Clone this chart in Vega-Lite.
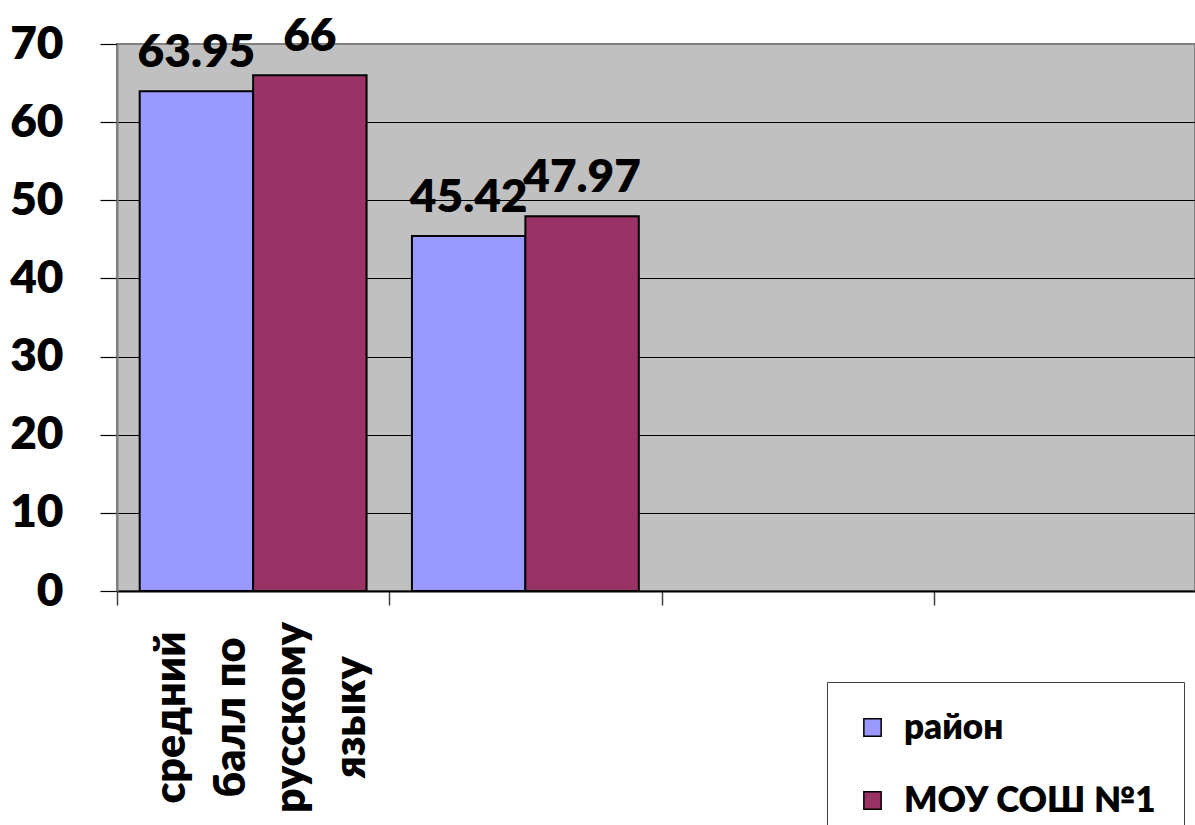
{
  "$schema": "https://vega.github.io/schema/vega-lite/v6.json",
  "autosize": {"type": "none"},
  "padding": {"left": 117, "top": 44, "right": 0, "bottom": 234},
  "width": 1078,
  "height": 547,
  "background": "white",
  "config": {
    "view": {"fill": "#C0C0C0", "stroke": "#808080", "strokeWidth": 2},
    "font": "Lato"
  },
  "data": {
    "values": [
      {"cat": "c1", "series": "район", "value": 63.95},
      {"cat": "c1", "series": "МОУ СОШ №1", "value": 66},
      {"cat": "c2", "series": "район", "value": 45.42},
      {"cat": "c2", "series": "МОУ СОШ №1", "value": 47.97}
    ]
  },
  "encoding": {
    "x": {
      "field": "cat",
      "type": "nominal",
      "scale": {"domain": ["c1", "c2", "c3", "c4"], "range": [0, 1089], "paddingInner": 0, "paddingOuter": 0},
      "axis": {
        "title": null,
        "domainColor": "black",
        "domainWidth": 2,
        "tickBand": "extent",
        "tickSize": 14,
        "tickColor": "#404040",
        "tickWidth": 1.5,
        "labelAngle": -90,
        "labelAlign": "center",
        "labelBaseline": "middle",
        "labelPadding": 112,
        "labelOffset": -82,
        "labelLineHeight": 60,
        "labelFontSize": 43,
        "labelFont": "Lato",
        "labelFontWeight": 800,
        "labelColor": "black",
        "labelFlush": false,
        "labelOverlap": false,
        "labelLimit": 0,
        "labelExpr": "datum.value == 'c1' ? ['средний', 'балл по', 'русскому', 'языку'] : ''"
      }
    },
    "xOffset": {
      "field": "series",
      "type": "nominal",
      "scale": {"domain": ["район", "МОУ СОШ №1"], "paddingInner": 0, "paddingOuter": 0.2}
    },
    "y": {
      "field": "value",
      "type": "quantitative",
      "scale": {"domain": [0, 70], "nice": false},
      "axis": {
        "title": null,
        "values": [0, 10, 20, 30, 40, 50, 60, 70],
        "grid": true,
        "gridColor": {"condition": {"test": "datum.value == 70", "value": "#808080"}, "value": "black"},
        "gridWidth": 1.2,
        "domainColor": "#808080",
        "domainWidth": 2,
        "tickSize": 17,
        "tickColor": "black",
        "tickWidth": 1.2,
        "labelPadding": 37,
        "labelFontSize": 46,
        "labelFont": "Lato",
        "labelFontWeight": 800,
        "labelColor": "black"
      }
    }
  },
  "layer": [
    {
      "mark": {"type": "bar", "stroke": "black", "strokeWidth": 2},
      "encoding": {
        "color": {
          "field": "series",
          "type": "nominal",
          "scale": {"domain": ["район", "МОУ СОШ №1"], "range": ["#9999FF", "#993366"]},
          "legend": {
            "title": null,
            "orient": "none",
            "legendX": 710,
            "legendY": 638,
            "padding": 28,
            "strokeColor": "#404040",
            "fillColor": "white",
            "symbolType": "square",
            "symbolSize": 300,
            "symbolStrokeColor": "black",
            "symbolStrokeWidth": 1.5,
            "symbolOpacity": 1,
            "labelFontSize": 35,
            "labelFont": "Lato",
            "labelFontWeight": 800,
            "labelColor": "black",
            "labelOffset": 14,
            "labelLimit": 0,
            "rowPadding": 37
          }
        }
      }
    },
    {
      "mark": {"type": "text", "baseline": "alphabetic", "align": "center", "dy": -24, "fontSize": 46, "font": "Lato", "fontWeight": 800, "color": "black"},
      "encoding": {
        "text": {"field": "value", "type": "quantitative"}
      }
    }
  ]
}
